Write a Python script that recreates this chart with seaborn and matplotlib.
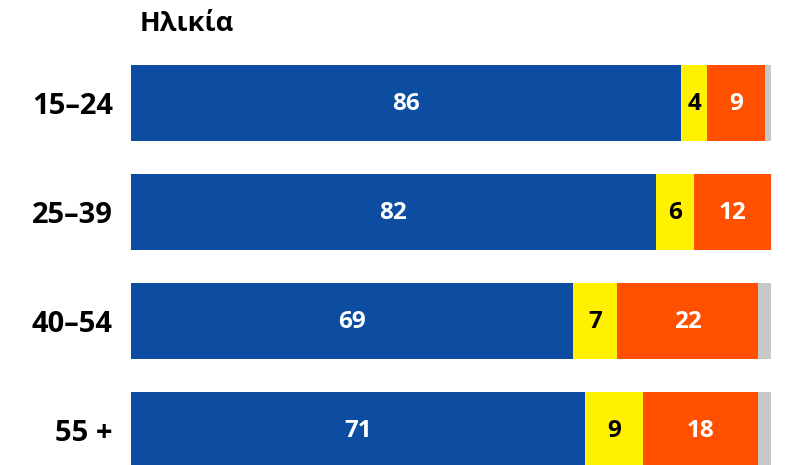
import matplotlib.pyplot as plt
import seaborn as sns
import pandas as pd
import numpy as np

# Data
groups = ['15–24', '25–39', '40–54', '55 +']
blue_vals = [86, 82, 69, 71]
yellow_vals = [4, 6, 7, 9]
orange_vals = [9, 12, 22, 18]
grey_vals = [1, 0, 2, 2]

colors = ['#0D4DA1', '#FFF100', '#FF5000', '#C8C8C8']

df = pd.DataFrame({
    'Group': groups,
    'Blue': blue_vals,
    'Yellow': yellow_vals,
    'Orange': orange_vals,
    'Grey': grey_vals,
})
df['c1'] = df['Blue']
df['c2'] = df['c1'] + df['Yellow']
df['c3'] = df['c2'] + df['Orange']
df['c4'] = df['c3'] + df['Grey']

sns.set_style('white')
plt.rcParams['font.family'] = ['Open Sans', 'DejaVu Sans']
plt.rcParams['text.color'] = 'black'
plt.rcParams['ytick.color'] = 'black'

fig = plt.figure(figsize=(7.87, 4.65), dpi=100)
ax = fig.add_axes([131 / 787, 0, 640 / 787, 416.5 / 465])

# stacked bars: draw cumulative totals from largest to smallest
for col, c in zip(['c4', 'c3', 'c2', 'c1'], colors[::-1]):
    sns.barplot(data=df, x=col, y='Group', orient='h', color=c,
                width=0.7, linewidth=0, saturation=1, ax=ax)

# segment labels
for i in range(len(groups)):
    segs = [(0, blue_vals[i], 'white'),
            (blue_vals[i], yellow_vals[i], 'black'),
            (blue_vals[i] + yellow_vals[i], orange_vals[i], 'white')]
    for start, w, tc in segs:
        ax.text(start + w / 2, i + 0.01, str(w), ha='center', va='center',
                color=tc, fontsize=17.5, fontweight='bold')

ax.set_xlim(0, 100)
ax.set_ylim((465 - 103) / 109, -0.5)
ax.set_xlabel('')
ax.set_ylabel('')
ax.set_xticks([])
ax.tick_params(axis='y', length=0, pad=13, labelsize=21, labelcolor='black')
for lab in ax.get_yticklabels():
    lab.set_fontweight('bold')
sns.despine(ax=ax, left=True, bottom=True)

fig.text(140 / 787, 1 - 24 / 465, 'Ηλικία', ha='left', va='center',
         fontsize=19.5, fontweight='bold', color='black')

plt.savefig('out.png', dpi=100)
plt.close()
